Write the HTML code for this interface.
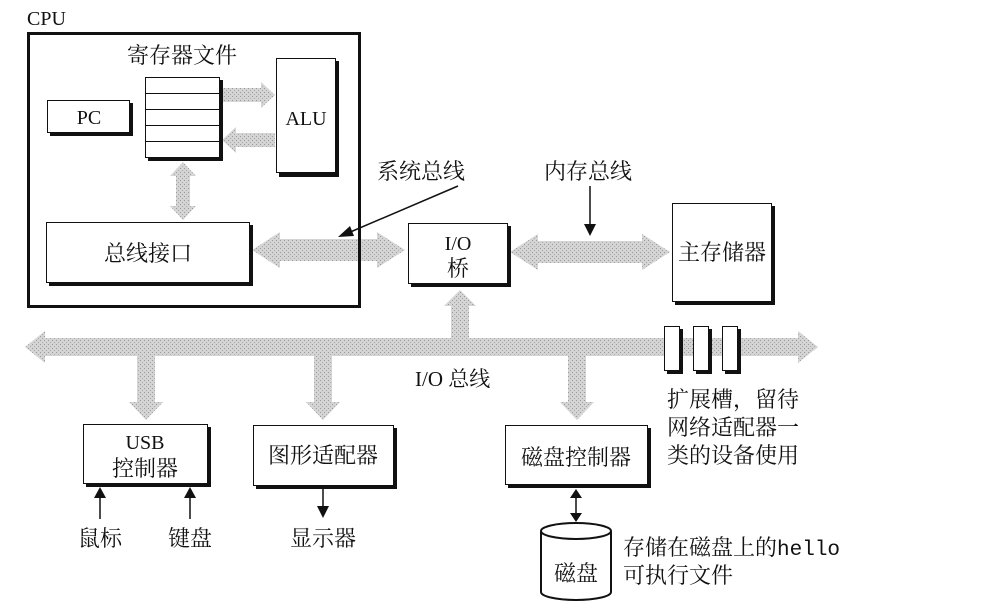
<!DOCTYPE html>
<html><head><meta charset="utf-8"><style>
body{margin:0;background:#fff}
svg{display:block}
text{font-family:"Liberation Serif","Noto Serif CJK SC","Noto Sans CJK SC",serif;fill:#111}
.c{font-size:22px}
</style></head><body>
<svg width="987" height="608" viewBox="0 0 987 608" xmlns="http://www.w3.org/2000/svg">
<defs>
<pattern id="st" width="4" height="4" patternUnits="userSpaceOnUse">
<rect width="4" height="4" fill="#d4d4d4"/><rect x="0" y="0" width="1" height="1" fill="#999"/><rect x="2" y="2" width="1" height="1" fill="#aaa"/>
</pattern>
</defs>
<g fill="url(#st)">
<polygon points="222,88 261,88 261,82 275,95 261,108 261,102 222,102"/>
<polygon points="275,133 236,133 236,127 222,140 236,153 236,147 275,147"/>
<polygon points="183,162 196,176 190,176 190,206 196,206 183,220 170,206 176,206 176,176 170,176"/>
<polygon points="252,250 280,232 280,239 377,239 377,232 405,250 377,268 377,261 280,261 280,268"/>
<polygon points="510,252 538,234 538,241 642,241 642,234 670,252 642,270 642,263 538,263 538,270"/>
<polygon points="460,290 476,306 469,306 469,340 451,340 451,306 444,306"/>
<polygon points="25,347 45,331 45,338 798,338 798,331 818,347 798,363 798,356 45,356 45,363"/>
<polygon points="137,355 155,355 155,402 163,402 146,420 129,402 137,402"/>
<polygon points="314,355 332,355 332,402 340,402 323,420 306,402 314,402"/>
<polygon points="568,355 586,355 586,402 594,402 577,420 560,402 568,402"/>
</g>
<text x="27" y="25" font-size="20">CPU</text>
<rect x="28.5" y="33.5" width="331" height="273" fill="none" stroke="#111" stroke-width="3"/>
<text x="182" y="63" class="c" text-anchor="middle">寄存器文件</text>
<rect x="50" y="103" width="83" height="33" fill="#111"/>
<rect x="47.5" y="100.5" width="82" height="32" fill="#fff" stroke="#111"/>
<text x="89" y="124" font-size="20" text-anchor="middle">PC</text>
<rect x="148" y="80" width="75" height="81" fill="#111"/>
<rect x="145.5" y="77.5" width="74" height="80" fill="#fff" stroke="#111"/>
<g stroke="#111"><line x1="145" y1="93.5" x2="220" y2="93.5"/><line x1="145" y1="109.5" x2="220" y2="109.5"/><line x1="145" y1="125.5" x2="220" y2="125.5"/><line x1="145" y1="141.5" x2="220" y2="141.5"/></g>
<rect x="279" y="61" width="60" height="116" fill="#111"/>
<rect x="276.5" y="58.5" width="59" height="114" fill="#fff" stroke="#111"/>
<text x="306" y="125" font-size="20" text-anchor="middle">ALU</text>
<rect x="49" y="225" width="204" height="61" fill="#111"/>
<rect x="46.5" y="222.5" width="203" height="60" fill="#fff" stroke="#111"/>
<text x="148" y="261" class="c" text-anchor="middle">总线接口</text>
<text x="377" y="179" class="c">系统总线</text>
<line x1="458" y1="186" x2="348" y2="233" stroke="#111" stroke-width="1.5"/>
<polygon points="338,237 350,226 354,236" fill="#111"/>
<rect x="411" y="226" width="100" height="61" fill="#111"/>
<rect x="408.5" y="223.5" width="99" height="60" fill="#fff" stroke="#111"/>
<text x="458" y="250" font-size="20" text-anchor="middle">I/O</text>
<text x="458" y="276" class="c" text-anchor="middle">桥</text>
<text x="544" y="179" class="c">内存总线</text>
<line x1="590" y1="186" x2="590" y2="226" stroke="#111" stroke-width="1.5"/>
<polygon points="584,224 596,224 590,236" fill="#111"/>
<rect x="675" y="206" width="100" height="99" fill="#111"/>
<rect x="672.5" y="203.5" width="99" height="98" fill="#fff" stroke="#111"/>
<text x="722" y="260" class="c" text-anchor="middle">主存储器</text>
<rect x="667" y="329" width="16" height="45" fill="#111"/><rect x="664.5" y="326.5" width="15" height="44" fill="#fff" stroke="#111"/>
<rect x="696" y="329" width="16" height="45" fill="#111"/><rect x="693.5" y="326.5" width="15" height="44" fill="#fff" stroke="#111"/>
<rect x="725" y="329" width="16" height="45" fill="#111"/><rect x="722.5" y="326.5" width="15" height="44" fill="#fff" stroke="#111"/>
<text x="415" y="386" font-size="21">I/O 总线</text>
<text x="667" y="407" class="c">扩展槽，留待</text>
<text x="667" y="435" class="c">网络适配器一</text>
<text x="667" y="463" class="c">类的设备使用</text>
<rect x="86" y="427" width="125" height="60" fill="#111"/>
<rect x="83.5" y="424.5" width="124" height="59" fill="#fff" stroke="#111"/>
<text x="145" y="449" font-size="20" text-anchor="middle">USB</text>
<text x="145" y="476" class="c" text-anchor="middle">控制器</text>
<line x1="100" y1="519" x2="100" y2="496" stroke="#111" stroke-width="1.5"/>
<polygon points="94,498 106,498 100,487" fill="#111"/>
<line x1="190" y1="519" x2="190" y2="496" stroke="#111" stroke-width="1.5"/>
<polygon points="184,498 196,498 190,487" fill="#111"/>
<text x="100" y="546" class="c" text-anchor="middle">鼠标</text>
<text x="190" y="546" class="c" text-anchor="middle">键盘</text>
<rect x="256" y="428" width="141" height="61" fill="#111"/>
<rect x="253.5" y="425.5" width="140" height="60" fill="#fff" stroke="#111"/>
<text x="323" y="463" class="c" text-anchor="middle">图形适配器</text>
<line x1="323" y1="489" x2="323" y2="508" stroke="#111" stroke-width="1.5"/>
<polygon points="317,506 329,506 323,518" fill="#111"/>
<text x="323" y="546" class="c" text-anchor="middle">显示器</text>
<rect x="508" y="428" width="143" height="60" fill="#111"/>
<rect x="505.5" y="425.5" width="142" height="59" fill="#fff" stroke="#111"/>
<text x="576" y="465" class="c" text-anchor="middle">磁盘控制器</text>
<line x1="576" y1="496" x2="576" y2="514" stroke="#111" stroke-width="1.5"/>
<polygon points="570,498 582,498 576,489" fill="#111"/>
<polygon points="570,513 582,513 576,522" fill="#111"/>
<path d="M541,531 L541,592 A35,8 0 0 0 611,592 L611,531" fill="#fff" stroke="#111" stroke-width="2"/>
<ellipse cx="576" cy="531" rx="35" ry="8" fill="#fff" stroke="#111" stroke-width="2"/>
<text x="576" y="581" class="c" text-anchor="middle">磁盘</text>
<text x="623" y="555" class="c">存储在磁盘上的<tspan font-family="Liberation Mono,monospace" font-size="21">hello</tspan></text>
<text x="623" y="583" class="c">可执行文件</text>
</svg>
</body></html>
